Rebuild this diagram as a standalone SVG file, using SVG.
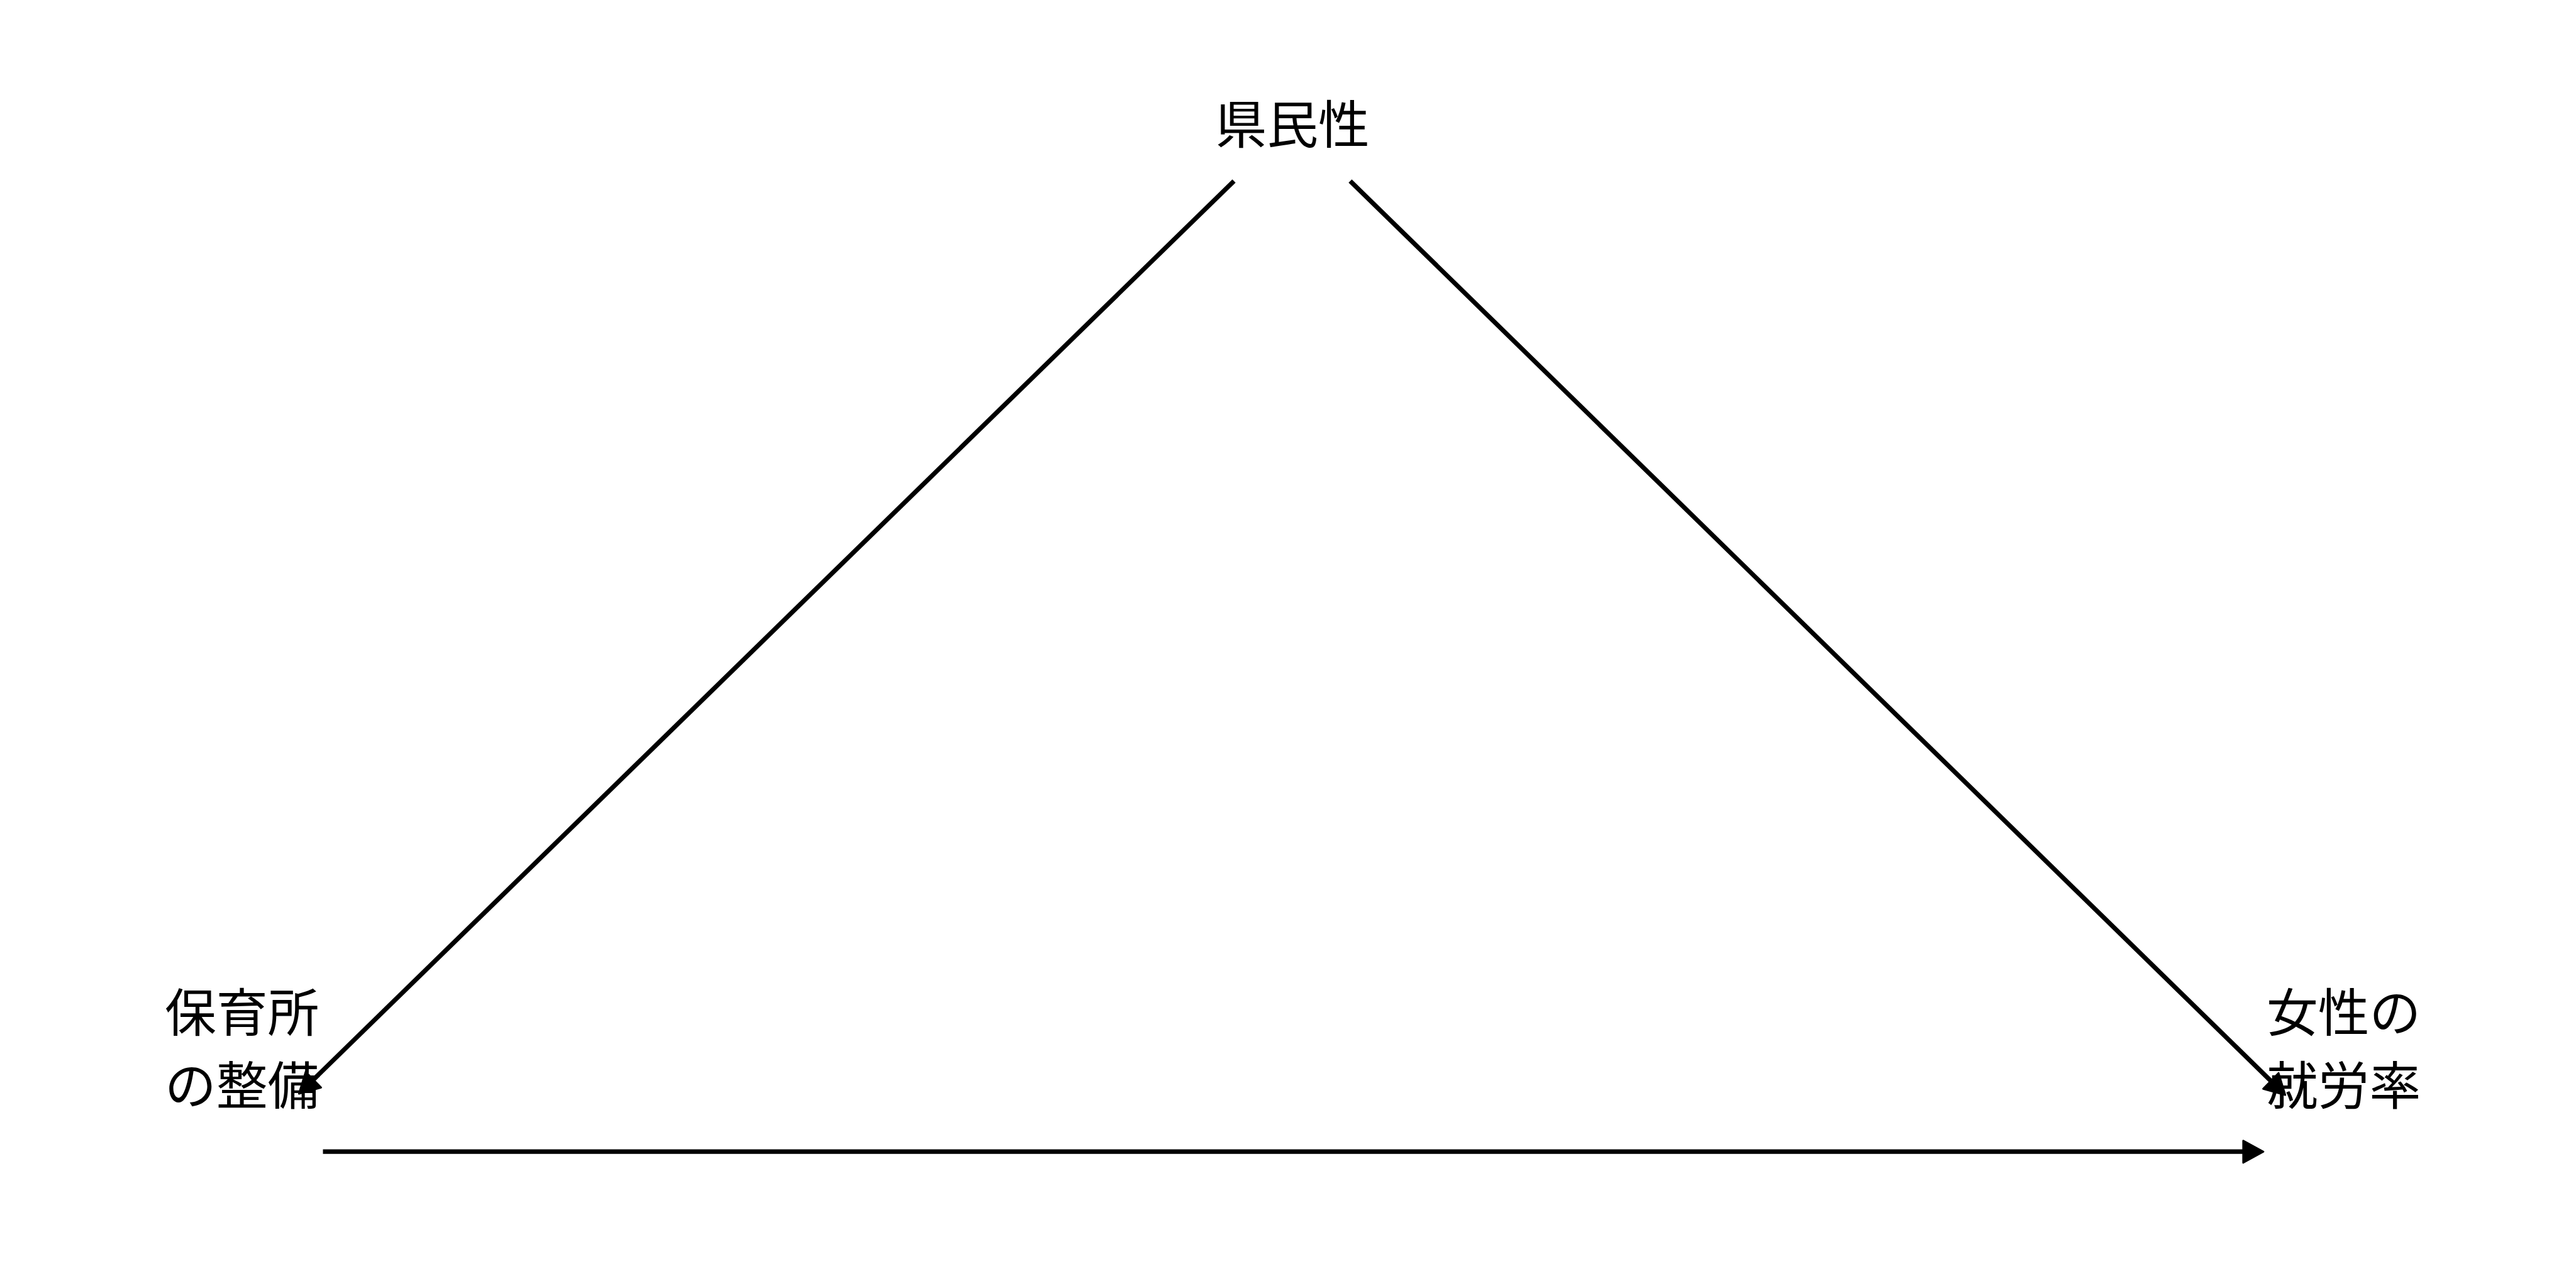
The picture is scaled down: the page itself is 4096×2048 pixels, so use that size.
<svg xmlns="http://www.w3.org/2000/svg" width="4096" height="2048" viewBox="0 0 4096 2048">
<style>
.lbl{font-family:"Noto Sans CJK JP","Noto Sans CJK SC",sans-serif;font-size:81.8px;fill:#000}
.edge{stroke:#000;stroke-width:7.3;fill:none}
</style>
<defs>
<marker id="ah" markerUnits="userSpaceOnUse" markerWidth="40" markerHeight="40" refX="12" refY="17.5" orient="auto" overflow="visible">
<path d="M0,0 L32,17.5 L0,35 Z" fill="#000" stroke="#000" stroke-width="3" stroke-linejoin="round"/>
</marker>
</defs>
<rect width="4096" height="2048" fill="#fff"/>
<g id="connectors">
<line class="edge" x1="1962.1" y1="287.8" x2="489.7" y2="1725.1" marker-end="url(#ah)"/>
<line class="edge" x1="2146.9" y1="287.8" x2="3619.4" y2="1727.1" marker-end="url(#ah)"/>
<line class="edge" x1="513.5" y1="1831.2" x2="3578.9" y2="1831.2" marker-end="url(#ah)"/>
</g>
<g id="node-kenminsei">
<text class="lbl" x="2055.2" y="227.8" text-anchor="middle">県民性</text>
</g>
<g id="node-hoikusho">
<text class="lbl" x="262" y="1639.5">保育所</text>
<text class="lbl" x="262" y="1755.5">の整備</text>
</g>
<g id="node-josei">
<text class="lbl" x="3604" y="1639.5">女性の</text>
<text class="lbl" x="3604" y="1755.5">就労率</text>
</g>
</svg>
